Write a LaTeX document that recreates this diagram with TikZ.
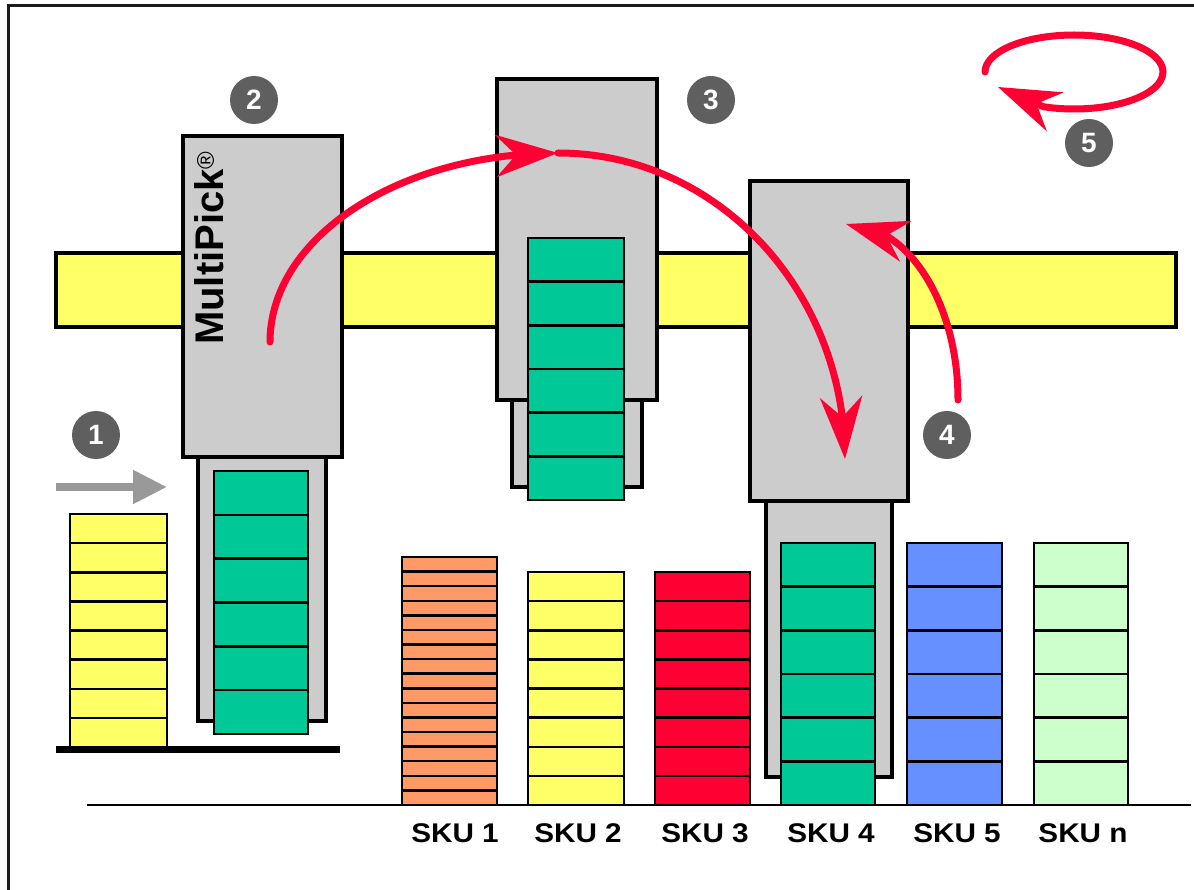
\documentclass[tikz,border=0pt]{standalone}
\usepackage{fontspec}
\setmainfont{Liberation Sans}
\usetikzlibrary{arrows.meta,bending}
\definecolor{mgray}{HTML}{CCCCCC}
\definecolor{railyel}{HTML}{FFFF66}
\definecolor{grn}{HTML}{00C896}
\definecolor{org}{HTML}{FF9966}
\definecolor{rd}{HTML}{FF0033}
\definecolor{blu}{HTML}{6690FF}
\definecolor{lgrn}{HTML}{CCFFCC}
\definecolor{cgray}{HTML}{5F5F5F}
\definecolor{agray}{HTML}{999999}
\definecolor{frm}{HTML}{1A1A1A}
\tikzset{
  box/.style={draw=black, line width=3.5pt, fill=mgray},
  cellline/.style={draw=black, line width=2.5pt},
  redarr/.style={draw=rd, line width=7pt, line cap=round,
    -{Stealth[length=62pt,width=42pt,inset=20pt]}},
  num/.style={circle, fill=cgray, minimum size=48pt, inner sep=0pt, text=white,
    font=\fontsize{28}{28}\selectfont\bfseries},
  skulabel/.style={font=\fontsize{27}{27}\selectfont\bfseries, anchor=base, inner sep=0pt}
}
\newcommand\skustack[6]{%
  \draw[cellline, fill=#6] (#1,#3) rectangle (#2,#4);
  \pgfmathsetmacro\skuh{(#4-#3)/#5}
  \pgfmathtruncatemacro\skun{#5-1}
  \foreach \k in {1,...,\skun}{%
    \draw[cellline] (#1,{#3+\k*\skuh}) -- (#2,{#3+\k*\skuh});
  }%
}
\begin{document}
\begin{tikzpicture}[x=1pt,y=-1pt]
\useasboundingbox (0,0) rectangle (1194,890);
% frame
\draw[line width=3pt, draw=frm] (8,892) -- (8,6) -- (1196,6);
% rail
\draw[box, fill=railyel] (56,253) rectangle (1176,327);
% floor
\draw[line width=2pt] (87,805) -- (1191,805);
% machine 1
\draw[box] (198,450) rectangle (326,721);
\draw[box] (183,136) rectangle (342,457);
\skustack{214}{308}{471}{734}{6}{grn}
\node[rotate=90, anchor=base west, inner sep=0pt,
  font=\fontsize{40}{40}\selectfont\bfseries] (mp) at (223,345) {MultiPick\textsuperscript{\fontsize{24}{24}\selectfont\mdseries ®}};
% machine 2
\draw[box] (512,395) rectangle (642,487);
\draw[box] (497,79) rectangle (657,400);
\skustack{528}{624}{238}{500}{6}{grn}
% machine 3
\draw[box] (766,495) rectangle (892,777);
\draw[box] (750,181) rectangle (908,501);
\skustack{781}{875}{543}{805}{6}{grn}
% left stack
\skustack{70}{167}{514}{747}{8}{railyel}
\draw[line width=7pt] (56,749) -- (340,749);
% SKU stacks
\skustack{402}{497}{557}{805}{17}{org}
\skustack{528}{624}{572}{805}{8}{railyel}
\skustack{655}{750}{572}{805}{8}{rd}
\skustack{907}{1002}{543}{805}{6}{blu}
\skustack{1034}{1128}{543}{805}{6}{lgrn}
% labels
\node[skulabel] (sku1) at (455,842) {\scalebox{1.1}[1]{SKU 1}};
\node[skulabel] (sku2) at (578,842) {\scalebox{1.1}[1]{SKU 2}};
\node[skulabel] (sku3) at (705,842) {\scalebox{1.1}[1]{SKU 3}};
\node[skulabel] (sku4) at (831,842) {\scalebox{1.1}[1]{SKU 4}};
\node[skulabel] (sku5) at (957,842) {\scalebox{1.1}[1]{SKU 5}};
\node[skulabel] (skun) at (1083,842) {\scalebox{1.1}[1]{SKU n}};
% numbered circles
\node[num] (n1) at (96,435) {1};
\node[num] (n2) at (254,100) {2};
\node[num] (n3) at (711,100) {3};
\node[num] (n4) at (947,435) {4};
\node[num] (n5) at (1089,143) {5};
% gray feed arrow
\coordinate (fs) at (56,487);
\coordinate (fe) at (167,487);
\draw[line width=8pt, draw=agray, -{Triangle[length=34pt,width=32pt]}] (fs) -- (fe);
% red arrows
\coordinate (pa) at (270,342);
\coordinate (pb) at (558,153);
\coordinate (pc) at (958,400);
\coordinate (pd) at (985,72);
\coordinate (pe) at (998,87);
\draw[redarr] (pa) arc[start angle=180, end angle=270, x radius=288, y radius=189];
\draw[redarr] (pb) arc[start angle=270, end angle=360, x radius=287, y radius=306];
\draw[redarr] (pc) arc[start angle=360, end angle=270, x radius=112, y radius=176];
\draw[redarr] (pd) arc[start angle=180, end angle=470, x radius=89, y radius=37] -- (pe);
\end{tikzpicture}
\end{document}
